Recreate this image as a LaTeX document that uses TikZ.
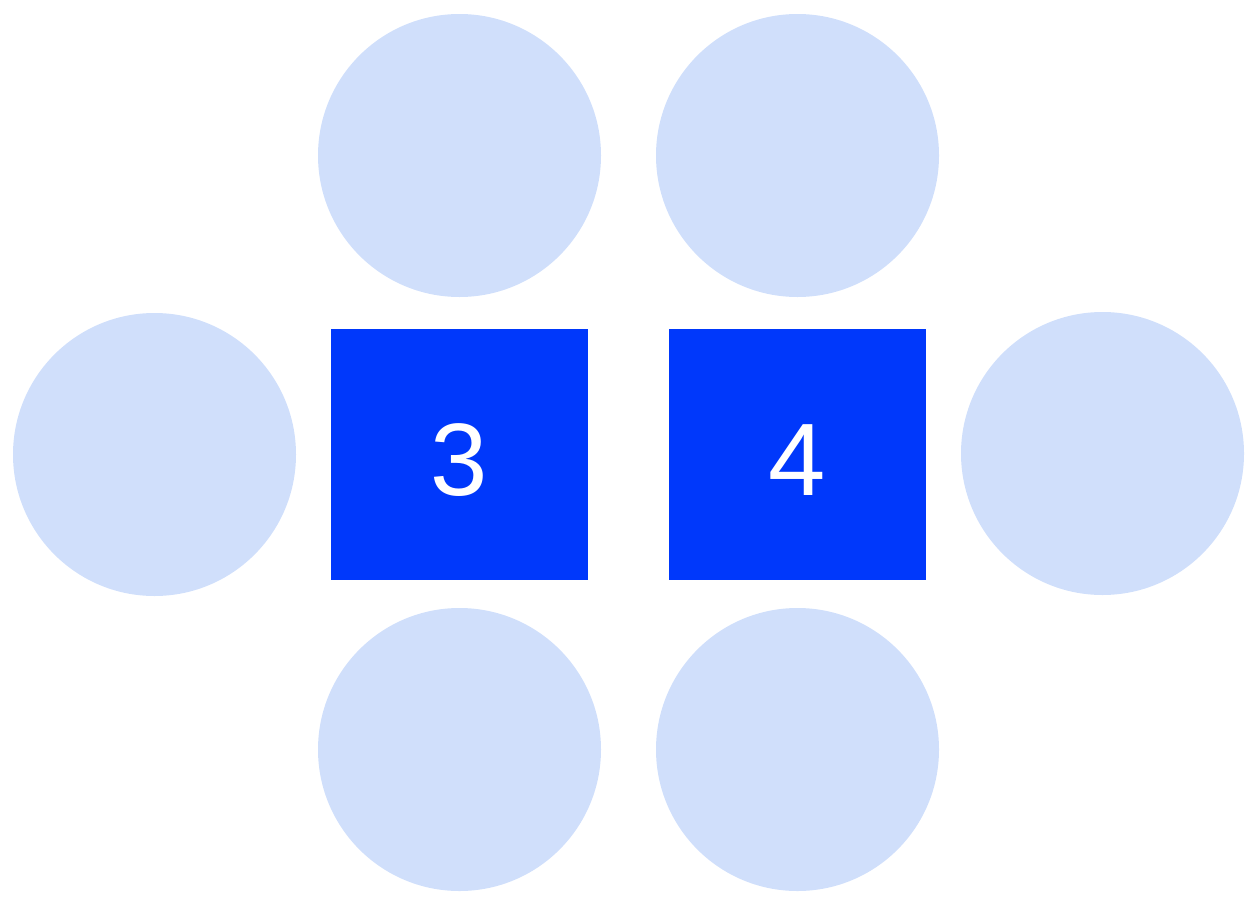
\documentclass[tikz,border=0pt]{standalone}
\usepackage{fontspec}
\setmainfont{Liberation Sans}
\usepackage{xcolor}
\usetikzlibrary{positioning}

\definecolor{seatblue}{HTML}{D0DFFB}
\definecolor{tableblue}{HTML}{0038FB}

\begin{document}
\begin{tikzpicture}[
x=1pt, y=-1pt,
seat/.style={
circle,
fill=seatblue,
inner sep=0pt,
outer sep=0pt,
minimum size=283pt
},
table/.style={
rectangle,
fill=tableblue,
text=white,
inner sep=0pt,
outer sep=0pt,
minimum width=257pt,
minimum height=251pt,
text height=81pt,
text depth=0pt,
font=\fontsize{103}{120}\selectfont
}
]

\useasboundingbox (0,0) rectangle (1260,918);

\node (tableA) [table] at (459.5,454.5) {3};
\node (tableB) [table] at (797.5,454.5) {4};

\node (seatAtop) [seat] at (459.5,155.5) {};
\node (seatBtop) [seat] at (797.5,155.5) {};
\node (seatAleft) [seat] at (154.5,454.5) {};
\node (seatBright) [seat] at (1102.5,453.5) {};
\node (seatAbottom) [seat] at (459.5,749.5) {};
\node (seatBbottom) [seat] at (797.5,749.5) {};

\end{tikzpicture}
\end{document}
